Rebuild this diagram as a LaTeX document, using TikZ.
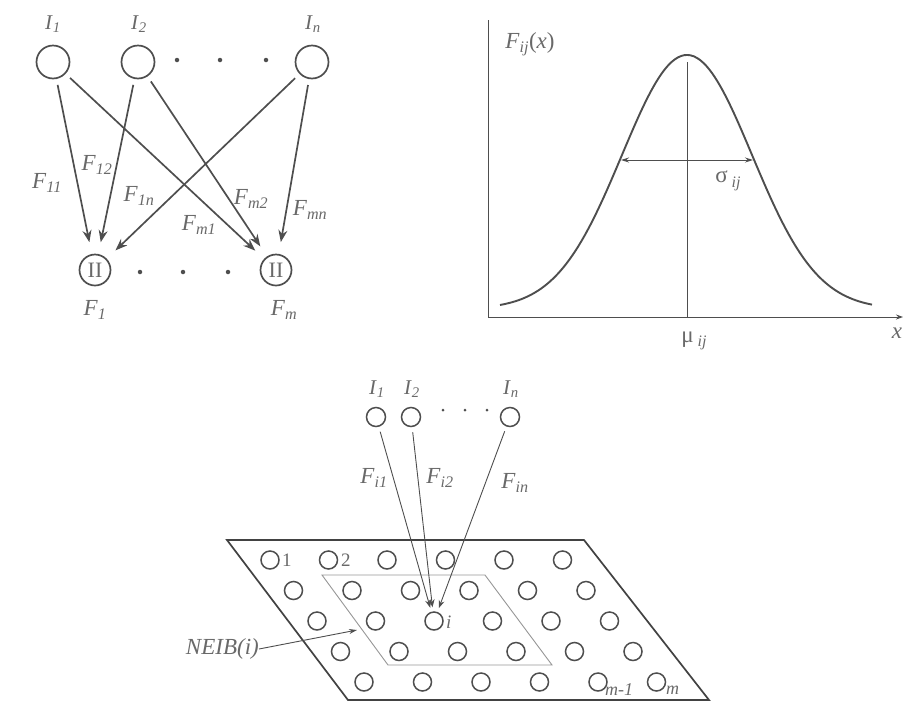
\documentclass[tikz,border=0pt]{standalone}
\usepackage{fontspec}
\setmainfont{Liberation Serif}
\usetikzlibrary{arrows.meta}
\definecolor{linecol}{RGB}{78,78,78}
\definecolor{labcol}{RGB}{105,105,105}
\definecolor{neibcol}{RGB}{150,150,150}
\newcommand{\subl}[2]{\textit{#1}\textsubscript{\textit{#2}}}
\begin{document}
\begin{tikzpicture}[x=1pt,y=-1pt,
  inode/.style={circle,draw=linecol,line width=1.7pt,minimum size=33pt,inner sep=0pt},
  pnode/.style={circle,draw=linecol,line width=1.7pt,minimum size=31pt,inner sep=0pt,text=labcol,font=\fontsize{22}{22}\selectfont},
  snode/.style={circle,draw=linecol,line width=1.5pt,minimum size=19pt,inner sep=0pt},
  gnode/.style={circle,draw=linecol,line width=1.5pt,minimum size=18pt,inner sep=0pt},
  dotmark/.style={circle,fill=linecol,minimum size=4.5pt,inner sep=0pt},
  lab/.style={text=labcol,font=\fontsize{23}{23}\selectfont,inner sep=0pt},
  ilab/.style={text=labcol,font=\fontsize{21}{21}\selectfont,inner sep=0pt},
  slab/.style={text=labcol,font=\fontsize{19}{19}\selectfont,inner sep=0pt},
  mlab/.style={text=labcol,font=\fontsize{18}{18}\selectfont,inner sep=0pt},
  bigarrow/.style={draw=linecol,line width=1.7pt,-{Stealth[length=12pt,width=9pt]},shorten <=6pt,shorten >=12pt},
  thinarrow/.style={draw=linecol,line width=0.9pt,-{Stealth[length=8pt,width=6pt]},shorten <=5pt,shorten >=4pt},
  axis/.style={draw=linecol,line width=1pt},
  curve/.style={draw=linecol,line width=1.9pt}
]
\useasboundingbox (0,0) rectangle (904,702);

% ---------- top-left network ----------
\node[inode] (I1) at (53,62) {};
\node[inode] (I2) at (138,62) {};
\node[inode] (In) at (312,62) {};
\node[dotmark] (d1) at (177,60) {};
\node[dotmark] (d2) at (220,60) {};
\node[dotmark] (d3) at (266,60) {};
\node[ilab] (lI1) at (53,24) {\subl{I}{1}};
\node[ilab] (lI2) at (139,24) {\subl{I}{2}};
\node[ilab] (lIn) at (313,24) {\subl{I}{n}};

\node[pnode] (F1) at (95,270) {II};
\node[pnode] (Fm) at (276,270) {II};
\node[dotmark] (e1) at (140,272) {};
\node[dotmark] (e2) at (183,272) {};
\node[dotmark] (e3) at (228,272) {};
\node[lab] (lF1) at (95,310) {\subl{F}{1}};
\node[lab] (lFm) at (284,310) {\subl{F}{m}};

\draw[bigarrow] (I1) -- (F1);
\draw[bigarrow] (I1) -- (Fm);
\draw[bigarrow] (I2) -- (F1);
\draw[bigarrow] (I2) -- (Fm);
\draw[bigarrow] (In) -- (F1);
\draw[bigarrow] (In) -- (Fm);

\node[lab] (F11) at (47,183) {\subl{F}{11}};
\node[lab] (F12) at (97,165) {\subl{F}{12}};
\node[lab] (F1n) at (139,196) {\subl{F}{1n}};
\node[lab] (Fm1) at (199,225) {\subl{F}{m1}};
\node[lab] (Fm2) at (251,199) {\subl{F}{m2}};
\node[lab] (Fmn) at (310,210) {\subl{F}{mn}};

% ---------- top-right graph ----------
\coordinate (O) at (488,317);
\coordinate (ytop) at (488,20);
\coordinate (xend) at (903,317);
\draw[axis] (ytop) -- (O);
\draw[axis,-{Stealth[length=7pt,width=5pt]}] (O) -- (xend);
\coordinate (mutop) at (687,62);
\coordinate (mubot) at (687,317);
\draw[axis] (mutop) -- (mubot);
\draw[curve] plot[domain=500:872,samples=120,smooth] (\x,{309-254*exp(-0.5*((\x-687)/65)^2)});
\coordinate (sl) at (621,160);
\coordinate (sr) at (753,160);
\draw[axis,{Stealth[length=8pt,width=5pt]}-{Stealth[length=8pt,width=5pt]}] (sl) -- (sr);
\node[lab] (Fij) at (530,44) {\subl{F}{ij}(\textit{x})};
\node[lab] (sig) at (728,181) {σ\,\textit{\fontsize{16}{16}\selectfont\raisebox{-0.3em}{ij}}};
\node[lab] (mu) at (694,341) {μ\,\textit{\fontsize{16}{16}\selectfont\raisebox{-0.3em}{ij}}};
\node[lab] (xl) at (897,333) {\textit{x}};

% ---------- bottom SOM ----------
\coordinate (P1) at (227,540);
\coordinate (P2) at (584,540);
\coordinate (P3) at (709,700);
\coordinate (P4) at (348,700);
\draw[draw=linecol!85!black,line width=1.7pt] (P1) -- (P2) -- (P3) -- (P4) -- cycle;
\coordinate (N1) at (322,575);
\coordinate (N2) at (485,575);
\coordinate (N3) at (552,665);
\coordinate (N4) at (388,665);
\draw[draw=neibcol,line width=0.9pt] (N1) -- (N2) -- (N3) -- (N4) -- cycle;

\foreach \r in {0,...,4}{
  \foreach \c in {0,...,5}{
    \node[gnode] (g\r\c) at ({270+58.5*\c+23.5*\r},{560+30.5*\r}) {};
  }
}

\node[snode] (J1) at (376,417) {};
\node[snode] (J2) at (411,417) {};
\node[snode] (Jn) at (510,417) {};
\node[dotmark,minimum size=3pt] (f1) at (443,410) {};
\node[dotmark,minimum size=3pt] (f2) at (465,410) {};
\node[dotmark,minimum size=3pt] (f3) at (487,410) {};
\node[ilab] (lJ1) at (377,389) {\subl{I}{1}};
\node[ilab] (lJ2) at (412,389) {\subl{I}{2}};
\node[ilab] (lJn) at (511,389) {\subl{I}{n}};

\draw[thinarrow] (J1) -- (g22);
\draw[thinarrow] (J2) -- (g22);
\draw[thinarrow] (Jn) -- (g22);

\node[lab] (Fi1) at (374,478) {\subl{F}{i1}};
\node[lab] (Fi2) at (440,478) {\subl{F}{i2}};
\node[lab] (Fin) at (515,483) {\subl{F}{in}};

\node[slab,anchor=west] (n1) at (282,560) {1};
\node[slab,anchor=west] (n2) at (341,560) {2};
\node[slab,anchor=west] (ni) at (446,622) {\textit{i}};
\node[mlab,anchor=west] (nm1) at (605,690) {\textit{m-1}};
\node[mlab,anchor=west] (nm) at (666,690) {\textit{m}};

\node[lab,anchor=east] (neib) at (259,649) {\textit{NEIB(i)}};
\coordinate (nb) at (357,630);
\draw[draw=linecol,line width=0.9pt,-{Stealth[length=8pt,width=5pt]}] (neib.east) -- (nb);

\end{tikzpicture}
\end{document}
